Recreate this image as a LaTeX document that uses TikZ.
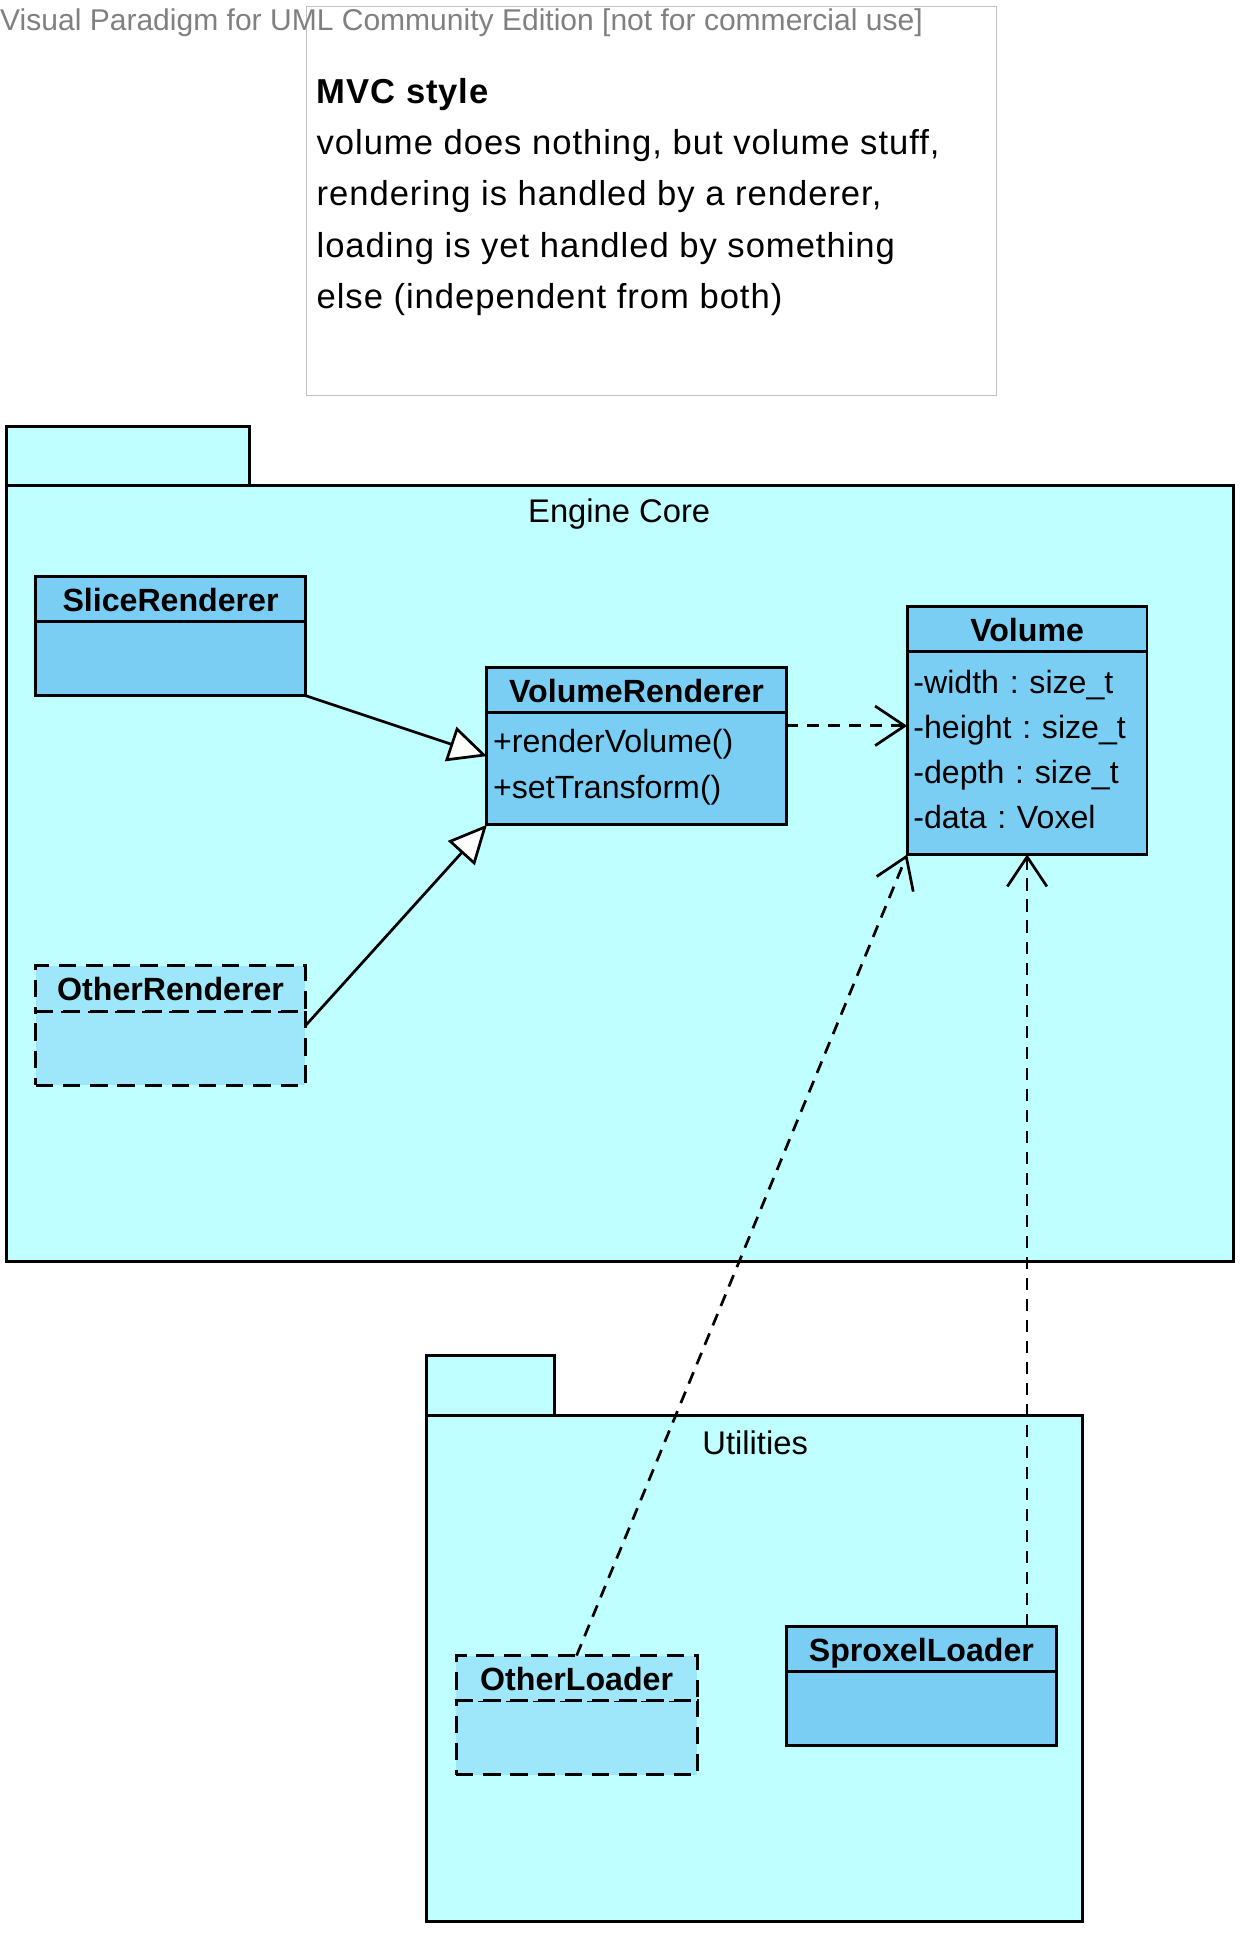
\documentclass[tikz,border=0pt]{standalone}
\usepackage{fontspec}
\setmainfont{Liberation Sans}
\newfontfamily\notefont[LetterSpace=2.8]{Liberation Sans}
\usepackage{tikz}
\usetikzlibrary{positioning,arrows.meta}

\definecolor{pkgfill}{HTML}{C0FFFF}
\definecolor{clsfill}{HTML}{7ACEF4}
\definecolor{absfill}{HTML}{9EE6FA}
\definecolor{notegray}{HTML}{C0C0C0}
\definecolor{markgray}{HTML}{808080}

\begin{document}
\frenchspacing
\begin{tikzpicture}[x=1pt,y=-1pt,
        pkg/.style={draw,line width=2.4pt,fill=pkgfill},
        pkglabel/.style={font=\fontsize{26.5}{30}\selectfont},
        clshead/.style={draw,line width=2.4pt,fill=clsfill,minimum height=36.5pt,inner sep=0pt,outer sep=0pt,
                text height=20pt,text depth=0pt,font=\bfseries\fontsize{26}{30}\selectfont},
        clsbody/.style={draw,line width=2.4pt,fill=clsfill,inner xsep=5pt,inner ysep=0pt,outer sep=0pt,
                align=left,font=\fontsize{26}{36.5}\selectfont},
        members/.style={execute at end node={\endgraf\vspace{#1}}},
        abstract/.style={fill=absfill,dash pattern=on 14pt off 8pt},
        gen/.style={line width=2.2pt,-{Triangle[fill=white,length=31pt,width=29pt,line width=2.2pt]}},
        dep/.style={line width=2.2pt,dash pattern=on 10pt off 7pt,
                -{Straight Barb[length=24pt,width=32pt,line width=2.2pt]}}]
        \useasboundingbox (0,0) rectangle (1010,1568);

        % note
        \draw[notegray,line width=1pt,fill=white] (248,5) rectangle (806,320);
        \node[anchor=north west,inner sep=0pt,align=left,font=\notefont\fontsize{28}{41.5}\selectfont] (note) at (256,63)
                {\textbf{MVC style}\\volume does nothing, but volume stuff,\\rendering is handled by a renderer,\\loading is yet handled by something\\else (independent from both)};
        \node[anchor=west,inner sep=0pt,text=markgray,font=\fontsize{24.3}{28}\selectfont] (mark) at (0,18)
                {Visual Paradigm for UML Community Edition [not for commercial use]};

        % packages
        \draw[pkg] (5,345) rectangle (202,393);
        \draw[pkg] (5,393) rectangle (998,1021);
        \node[pkglabel] (core) at (501,416) {Engine Core};
        \draw[pkg] (345,1097) rectangle (449,1145);
        \draw[pkg] (345,1145) rectangle (876,1555);
        \node[pkglabel] (util) at (611,1167) {Utilities};

        % classes
        \node[clshead,minimum width=218pt] (slice) at (138,484.5) {SliceRenderer};
        \node[clsbody,minimum width=218pt,minimum height=60pt,below=0pt of slice] (slice-b) {};

        \node[clshead,minimum width=242pt] (vr) at (515,558) {VolumeRenderer};
        \node[clsbody,members=2pt,text width=232pt,minimum height=91pt,below=0pt of vr] (vr-b)
                {+renderVolume()\\+setTransform()};

        \node[clshead,minimum width=194pt] (vol) at (831,509) {Volume};
        \node[clsbody,members=6pt,text width=184pt,minimum height=164pt,below=0pt of vol] (vol-b)
                {-width : size\_t\\-height : size\_t\\-depth : size\_t\\-data : Voxel};

        \node[clsbody,abstract,minimum width=218pt,minimum height=60pt] (orr-b) at (138,848) {};
        \node[clshead,abstract,minimum width=218pt,above=0pt of orr-b] (orr) {OtherRenderer};

        \node[clsbody,abstract,minimum width=195pt,minimum height=60pt] (oload-b) at (466.5,1406) {};
        \node[clshead,abstract,minimum width=195pt,above=0pt of oload-b] (oload) {OtherLoader};

        \node[clshead,minimum width=219pt] (sprox) at (745.5,1334) {SproxelLoader};
        \node[clsbody,minimum width=219pt,minimum height=60pt,below=0pt of sprox] (sprox-b) {};

        % relations
        \draw[gen] (slice-b.south east) -- ([yshift=10pt]vr-b.west);
        \draw[gen] ([yshift=18pt]orr-b.east) -- (vr-b.south west);
        \coordinate (usevol) at ([yshift=-11pt]vr-b.north east);
        \draw[dep] (usevol) -- (usevol -| vol-b.west);
        \draw[dep] (oload.north) -- (vol-b.south west);
        \draw[dep] (vol-b.south |- sprox.north) -- (vol-b.south);
\end{tikzpicture}
\end{document}
